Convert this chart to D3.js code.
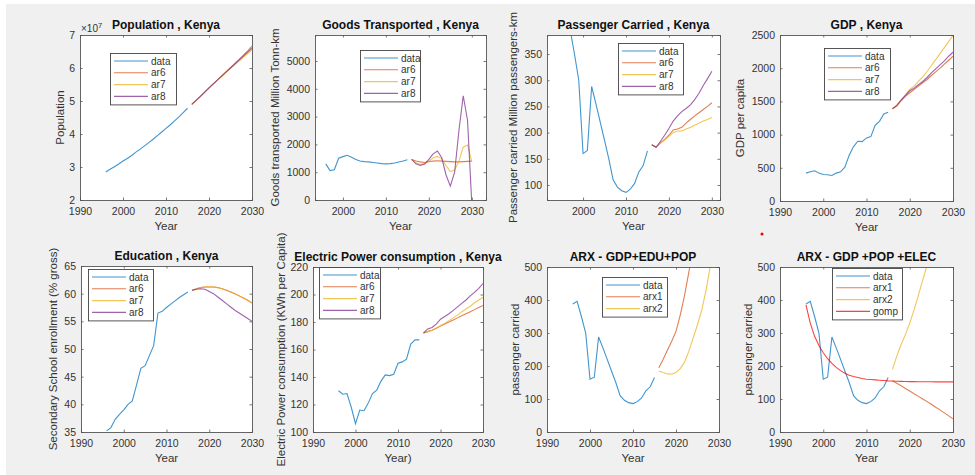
<!DOCTYPE html>
<meta charset="utf-8">
<style>
body{margin:0;background:#fff;}
svg{display:block;font-family:"Liberation Sans",Arial,Helvetica,sans-serif;}
</style>
<body>
<script src="https://d3js.org/d3.v7.min.js"></script>
<script>

var width = 975,
    height = 475;

// years
var years  = [1996,1997,1998,1999,2000,2001,2002,2003,2004,2005,2006,2007,2008,2009,2010,2011,2012,2013,2014,2015];
var fyears = [2016,2017,2018,2019,2020,2021,2022,2023,2024,2025,2026,2027,2028,2029,2030];
var gyears = [1996,1997,1998,1999,2000,2001,2002,2003,2004,2005,2006,2007,2008,2009,2010,2011,2012,2013,2014,2015,
              2016,2017,2018,2019,2020,2021,2022,2023,2024,2025,2026,2027,2028,2029,2030];

// population
var popData = [28500000,29300000,30100000,30900000,31800000,32600000,33500000,34500000,35400000,36400000,
               37400000,38400000,39500000,40600000,41700000,42800000,44000000,45200000,46500000,47800000];
var popAr6 = [49000000,50200000,51400000,52700000,54000000,55200000,56400000,57700000,58900000,60100000,61400000,62600000,63900000,65200000,66600000];
var popAr7 = [49000000,50200000,51400000,52700000,53900000,55100000,56300000,57500000,58700000,59900000,61000000,62100000,63300000,64400000,65500000];
var popAr8 = [49000000,50200000,51400000,52700000,54000000,55200000,56400000,57600000,58800000,60000000,61200000,62400000,63600000,64800000,66000000];

// goods transported
var goodsData = [1300,1060,1090,1500,1560,1610,1540,1460,1400,1380,1370,1350,1330,1310,1300,1310,1330,1370,1400,1450];
var goodsAr6 = [1460,1400,1370,1350,1380,1400,1410,1400,1390,1380,1370,1370,1380,1390,1400];
var goodsAr7 = [1460,1340,1280,1300,1400,1520,1570,1480,1240,1020,1080,1400,1900,1980,1380];
var goodsAr8 = [1460,1300,1240,1290,1460,1660,1760,1520,900,500,1000,2500,3750,2870,-150];

// passenger carried
var passData = [388,396,350,300,160,166,288,255,220,185,150,110,96,89,86,92,103,125,137,165];
var passAr6 = [177,172,180,187,195,205,207,210,218,225,232,238,244,250,257];
var passAr7 = [177,172,180,186,193,200,203,203,207,210,214,218,222,225,229];
var passAr8 = [177,172,183,195,208,222,232,240,246,253,263,275,290,303,317];

// gdp per capita
var gdpData = [420,440,455,420,400,395,385,420,440,510,690,820,900,895,950,970,1140,1200,1310,1335];
var gdpAr6 = [1390,1430,1510,1575,1630,1680,1730,1780,1830,1890,1945,2000,2060,2120,2180];
var gdpAr7 = [1390,1440,1520,1600,1680,1730,1800,1870,1950,2040,2130,2220,2310,2400,2490];
var gdpAr8 = [1390,1440,1520,1590,1660,1700,1750,1800,1860,1930,1990,2050,2110,2180,2240];

// education
var eduData = [35.2,35.8,37.3,38.2,39.0,40.0,40.6,43.5,46.5,47.0,48.8,50.6,56.5,56.8,57.5,58.1,58.7,59.3,59.8,60.3];
var eduAr6 = [60.6,60.9,61.1,61.2,61.2,61.2,61.1,60.9,60.6,60.3,60.0,59.6,59.2,58.8,58.3];
var eduAr7 = [60.6,60.9,61.1,61.2,61.25,61.2,61.1,60.9,60.65,60.35,60.0,59.6,59.2,58.8,58.35];
var eduAr8 = [60.6,60.8,60.9,60.8,60.4,60.0,59.4,58.8,58.2,57.6,57.0,56.5,56.0,55.5,55.0];

// electric power consumption
var elecData = [130,127.5,128,118,106,116,115.5,121,128,130.5,137,141.5,141,142,150,151,153,164,167,167];
var elecAr6 = [172,173,174,175.5,177,178.5,180,181.5,183,184.5,186,187.5,189,190.5,192];
var elecAr7 = [172,173,174,175.5,177.5,179,181,183,185,187.5,189.5,191.5,194,196,198];
var elecAr8 = [172,175,176,178.5,182,184,186,188.5,191,193.5,196,199,201.5,204.5,208];

// ARX models
var arx1A = [195,220,248,275,305,355,415,485,560,640,730,830,940,1060,1190];
var arx2A = [185,180,176,175,180,192,212,245,285,325,370,430,505,590,680];
var arx1B = [155,148,140,132,124,116,108,100,92,84,75,67,58,49,40];
var arx2B = [190,230,265,295,330,370,415,460,505,555,610,665,725,785,850];
var gomp = [385,330,290,262,240,222,208,196,186,178,172,168,165,162,160,159,158,157,156,155,
            154.5,154,153.5,153,152.8,152.6,152.4,152.3,152.2,152.1,152,152,151.9,151.9,151.8];

var arNames = ["data","ar6","ar7","ar8"];
var xTicksAll = [1990,2000,2010,2020,2030];
var xTicksShort = [2000,2010,2020,2030];

var cBlue = "#0072BD", cOrange = "#D95319", cYellow = "#EDB120", cPurple = "#7E2F8E", cRed = "#FF0000";

var panels = [
  {title:"Population , Kenya", ylabel:"Population", xlabel:"Year", box:[80,35,172,165],
   xdom:[1990,2030], ydom:[20000000,70000000], xticks:xTicksAll,
   yticks:[20000000,30000000,40000000,50000000,60000000,70000000], yfmt:function(d){return d/1e7;},
   series:[[years,popData,cBlue],[fyears,popAr6,cOrange],[fyears,popAr7,cYellow],[fyears,popAr8,cPurple]],
   names:arNames, legend:[110,53,66], expo:true},
  {title:"Goods Transported , Kenya", ylabel:"Goods transported Million Tonn-km", xlabel:"Year", box:[315,35,171,165],
   xdom:[1993.5,2033.3], ydom:[0,5935], xticks:xTicksShort,
   yticks:[0,1000,2000,3000,4000,5000],
   series:[[years,goodsData,cBlue],[fyears,goodsAr6,cOrange],[fyears,goodsAr7,cYellow],[fyears,goodsAr8,cPurple]],
   names:arNames, legend:[360,50,60]},
  {title:"Passenger Carried , Kenya", ylabel:"Passenger carried Million passengers-km", xlabel:"Year", box:[547,35,173,165],
   xdom:[1991.6,2031.9], ydom:[71.4,386.3], xticks:xTicksShort,
   yticks:[100,150,200,250,300,350],
   series:[[years,passData,cBlue],[fyears,passAr6,cOrange],[fyears,passAr7,cYellow],[fyears,passAr8,cPurple]],
   names:arNames, legend:[618,43,65]},
  {title:"GDP , Kenya", ylabel:"GDP per capita", xlabel:"Year", box:[780,35,173,166],
   xdom:[1990,2030], ydom:[0,2500], xticks:xTicksAll,
   yticks:[0,500,1000,1500,2000,2500],
   series:[[years,gdpData,cBlue],[fyears,gdpAr6,cOrange],[fyears,gdpAr7,cYellow],[fyears,gdpAr8,cPurple]],
   names:arNames, legend:[824,48,66]},
  {title:"Education , Kenya", ylabel:"Secondary School enrollment (% gross)", xlabel:"Year", box:[81,266,171,166],
   xdom:[1990,2030], ydom:[35,65], xticks:xTicksAll,
   yticks:[35,40,45,50,55,60,65],
   series:[[years,eduData,cBlue],[fyears,eduAr6,cOrange],[fyears,eduAr7,cYellow],[fyears,eduAr8,cPurple]],
   names:arNames, legend:[88,269,65]},
  {title:"Electric Power consumption , Kenya", ylabel:"Electric Power consumption (KWh per Capita)", xlabel:"Year)", box:[313,267,170,165],
   xdom:[1990,2030], ydom:[100,220], xticks:xTicksAll,
   yticks:[100,120,140,160,180,200,220],
   series:[[years,elecData,cBlue],[fyears,elecAr6,cOrange],[fyears,elecAr7,cYellow],[fyears,elecAr8,cPurple]],
   names:arNames, legend:[319,267,61]},
  {title:"ARX - GDP+EDU+POP", ylabel:"passenger carried", xlabel:"Year", box:[547,267,172,165],
   xdom:[1990,2030], ydom:[0,500], xticks:xTicksAll,
   yticks:[0,100,200,300,400,500],
   series:[[years,passData,cBlue],[fyears,arx1A,cOrange],[fyears,arx2A,cYellow]],
   names:["data","arx1","arx2"], legend:[602,277,65]},
  {title:"ARX - GDP +POP +ELEC", ylabel:"passenger carried", xlabel:"Year", box:[780,267,173,165],
   xdom:[1990,2030], ydom:[0,500], xticks:xTicksAll,
   yticks:[0,100,200,300,400,500],
   series:[[years,passData,cBlue],[fyears,arx1B,cOrange],[fyears,arx2B,cYellow],[gyears,gomp,cRed]],
   names:["data","arx1","arx2","gomp"], legend:[832,268,70]}
];

var ylabelX = [60,275,513,740,53,281,515,748];

var svg = d3.select("body").append("svg")
    .attr("width", width)
    .attr("height", height);

svg.append("rect")
    .attr("x",6).attr("y",4)
    .attr("width",width-6).attr("height",height-4)
    .attr("fill","#f0f0f0");

var textCol = "#333";
var tick = 2.5;

panels.forEach(function(p, pi){
  var bx = p.box[0], by = p.box[1], bw = p.box[2], bh = p.box[3];
  var x = d3.scaleLinear().domain(p.xdom).range([bx, bx+bw]);
  var y = d3.scaleLinear().domain(p.ydom).range([by+bh, by]);

  var g = svg.append("g").attr("class","panel");

  g.append("rect")
      .attr("x",bx).attr("y",by).attr("width",bw).attr("height",bh)
      .attr("fill","#fff");

  g.append("clipPath").attr("id","clip"+pi)
    .append("rect")
      .attr("x",bx).attr("y",by).attr("width",bw).attr("height",bh);

  // lines
  var line = d3.line()
      .x(function(d){return x(d[0]);})
      .y(function(d){return y(d[1]);});
  var lg = g.append("g").attr("clip-path","url(#clip"+pi+")");
  p.series.forEach(function(s){
    var pts = s[0].map(function(yr,i){return [yr, s[1][i]];});
    lg.append("path")
        .attr("d", line(pts))
        .attr("fill","none")
        .attr("stroke", s[2])
        .attr("stroke-opacity",0.75)
        .attr("stroke-width",1.1);
  });

  // axes (ticks inside, box on)
  var axB = d3.axisBottom(x).tickValues(p.xticks).tickSize(-tick).tickPadding(8).tickFormat(d3.format("d"));
  var axT = d3.axisTop(x).tickValues(p.xticks).tickSize(-tick).tickFormat("");
  var axL = d3.axisLeft(y).tickValues(p.yticks).tickSize(-tick).tickPadding(5)
      .tickFormat(p.yfmt ? p.yfmt : d3.format("d"));
  var axR = d3.axisRight(y).tickValues(p.yticks).tickSize(-tick).tickFormat("");

  var gb = g.append("g").attr("transform","translate(0,"+(by+bh)+")").call(axB);
  var gt = g.append("g").attr("transform","translate(0,"+by+")").call(axT);
  var gl = g.append("g").attr("transform","translate("+bx+",0)").call(axL);
  var gr = g.append("g").attr("transform","translate("+(bx+bw)+",0)").call(axR);
  [gb,gt,gl,gr].forEach(function(a){
    a.select(".domain").attr("stroke","#555").attr("stroke-width",0.9);
    a.selectAll(".tick line").attr("stroke","#555").attr("stroke-width",0.8);
    a.selectAll("text").attr("fill",textCol).style("font-size","10.5px")
      .style("font-family",'"Liberation Sans",Arial,sans-serif');
  });

  // title
  g.append("text")
      .attr("x", bx + bw/2).attr("y", by - 6)
      .attr("text-anchor","middle")
      .style("font-size","12px").style("font-weight","bold")
      .attr("fill","#111")
      .text(p.title);

  if (p.expo) {
    var e = g.append("text").attr("x",bx+1).attr("y",by-3)
        .attr("fill",textCol).style("font-size","10px");
    e.append("tspan").text("\u00d710");
    e.append("tspan").attr("dy",-4).style("font-size","7.5px").text("7");
  }

  // axis labels
  g.append("text")
      .attr("x", bx + bw/2).attr("y", by + bh + 30)
      .attr("text-anchor","middle")
      .attr("fill",textCol).style("font-size","11.5px")
      .text(p.xlabel);
  g.append("text")
      .attr("transform","translate("+ylabelX[pi]+","+(by+bh/2)+") rotate(-90)")
      .attr("text-anchor","middle").attr("dy","0.35em")
      .attr("fill",textCol).style("font-size","11.5px")
      .text(p.ylabel);

  // legend
  var lx = p.legend[0], ly = p.legend[1], lw = p.legend[2];
  var rowH = 11.8;
  var lh = 16 + (p.names.length-1)*rowH;
  var leg = g.append("g");
  leg.append("rect")
      .attr("x",lx+0.5).attr("y",ly+0.5).attr("width",lw).attr("height",lh)
      .attr("fill","#fff").attr("stroke","#444").attr("stroke-width",0.9);
  p.names.forEach(function(n,i){
    var yy = ly + 8 + i*rowH;
    leg.append("line")
        .attr("x1",lx+4).attr("x2",lx+38).attr("y1",yy).attr("y2",yy)
        .attr("stroke",p.series[i][2]).attr("stroke-opacity",0.75).attr("stroke-width",1.1);
    leg.append("text")
        .attr("x",lx+41).attr("y",yy).attr("dy","0.35em")
        .attr("fill",textCol).style("font-size","10px")
        .text(n);
  });
});

// stray red mark
svg.append("circle").attr("cx",762).attr("cy",234).attr("r",1.5).attr("fill","#e00");

</script>
